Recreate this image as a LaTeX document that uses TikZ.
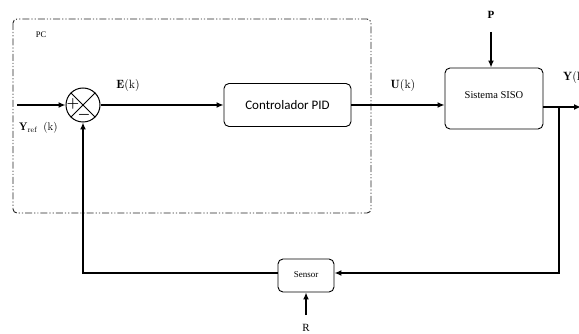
\documentclass[tikz,border=0pt]{standalone}
\usepackage{fontspec}
\usepackage{amsmath}
\newfontfamily\calib{Carlito}
\newfontfamily\tms{Liberation Serif}
\usetikzlibrary{arrows.meta,calc}
\begin{document}
\begin{tikzpicture}[x=1pt,y=-1pt,
  blk/.style={draw,line width=0.9pt,rounded corners=5pt,inner sep=0pt},
  conn/.style={line width=1.4pt},
  arr/.style={conn,-{Latex[length=7pt,width=6pt]}},
  lbl/.style={inner sep=0pt},
  sign/.style={inner sep=0pt,font=\fontsize{14}{14}\selectfont}]
\useasboundingbox (0,0) rectangle (579,334);
% PC frame
\draw[line width=0.9pt,black!85,rounded corners=4pt,dash pattern=on 7pt off 2pt on 1.2pt off 2pt on 1.2pt off 2pt] (13,19) rectangle (371,213);
\node[lbl,font=\tms\fontsize{8.5}{10}\selectfont] (pc) at (41,35) {PC};
% summing junction
\node[draw,circle,line width=1pt,minimum size=34pt,inner sep=0pt] (sum) at (83,105) {};
\draw[line width=0.9pt] (sum.north east) -- (sum.south west) (sum.north west) -- (sum.south east);
\node[sign] (plus) at ($(sum.center)+(-10,-1)$) {$\boldsymbol{+}$};
\node[sign] (minus) at ($(sum.center)+(1,10)$) {$\boldsymbol{-}$};
% blocks
\node[blk,minimum width=127pt,minimum height=43pt,font=\calib\fontsize{13}{15}\selectfont] (pid) at (287.5,105) {Controlador PID};
\node[blk,minimum width=98pt,minimum height=61pt,font=\tms\fontsize{10.5}{12}\selectfont] (siso) at (494,98.5) {\raisebox{6pt}{Sistema SISO}};
\node[blk,minimum width=56pt,minimum height=33pt,font=\tms\fontsize{9}{10}\selectfont] (sensor) at (306,275.5) {\raisebox{2pt}{Sensor}};
% labels
\node[lbl,font=\fontsize{12}{12}\selectfont] (ek) at (128,86) {$\mathbf{E}(\mathrm{k})$};
\node[lbl,font=\fontsize{12}{12}\selectfont] (uk) at (403,86) {$\mathbf{U}(\mathrm{k})$};
\node[lbl,anchor=west,font=\fontsize{12}{12}\selectfont] (yk) at (563,78) {$\mathbf{Y}(\mathrm{k})$};
\node[lbl,anchor=west,font=\fontsize{11}{12}\selectfont] (yref) at (19,128) {$\mathbf{Y}_{\mathrm{ref}}$\hspace{6pt}$(\mathrm{k})$};
\node[lbl,font=\tms\bfseries\fontsize{11}{12}\selectfont] (p) at (491,15) {P};
\node[lbl,font=\tms\fontsize{11}{12}\selectfont] (r) at (306,328) {R};
% coordinates
\coordinate (in) at (17,105);
\coordinate (pin) at (491,32);
\coordinate (rin) at (306,315);
\coordinate (out) at (581,107);
\coordinate (br) at (559,107);
\coordinate (brd) at (559,273);
\coordinate (fbl) at (83,273);
% connectors
\draw[arr] (in) -- (sum.west);
\draw[arr] (sum.east) -- (pid.west);
\draw[arr] (pid.east) -- (pid.east -| siso.west);
\draw[arr] (out -| siso.east) -- (out);
\draw[arr] (pin) -- (pin |- siso.north);
\draw[arr] (br) -- (brd) -- (brd -| sensor.east);
\draw[arr] (rin) -- (sensor.south);
\draw[arr] (fbl -| sensor.west) -- (fbl) -- (sum.south);
\end{tikzpicture}
\end{document}
